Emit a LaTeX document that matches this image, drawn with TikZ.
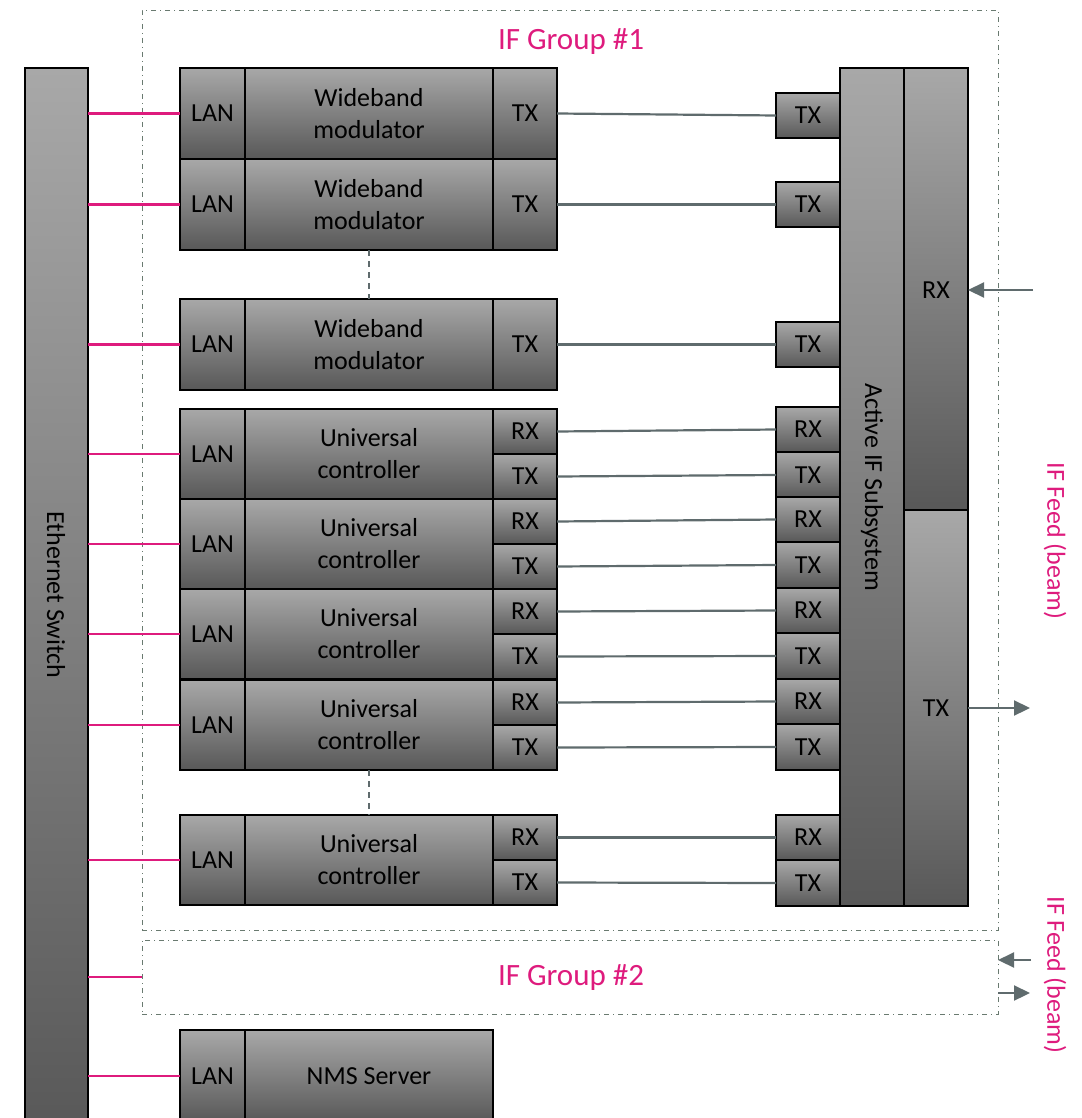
\documentclass[tikz,border=0pt]{standalone}
\usepackage{fontspec}
\setmainfont{Carlito}
\usetikzlibrary{arrows.meta}
\definecolor{boxtop}{RGB}{168,168,168}
\definecolor{boxbot}{RGB}{88,88,88}
\definecolor{pinkc}{RGB}{222,27,125}
\definecolor{linkc}{RGB}{95,107,109}
\definecolor{framec}{RGB}{105,122,112}
\newcommand{\boxfont}{\fontsize{26}{32}\selectfont}
\newcommand{\grpfont}{\fontsize{31}{36}\selectfont}
\tikzset{
  box/.style={draw=black, line width=1.8pt, top color=boxtop, bottom color=boxbot,
    inner sep=0pt, outer sep=0pt, anchor=north west, font=\boxfont, align=center},
  frame/.style={draw=framec, line width=0.7pt, dash pattern=on 5pt off 4pt on 1pt off 4pt,
    inner sep=0pt, outer sep=0pt, anchor=north west},
  link/.style={draw=linkc, line width=2.2pt},
  lanlink/.style={draw=pinkc, line width=2.6pt},
  feed/.style={draw=linkc, line width=2.2pt, -{Triangle[length=16pt,width=15pt]}},
  vdash/.style={draw=linkc, line width=2.2pt, dash pattern=on 6pt off 5pt},
  lbl/.style={font=\boxfont, inner sep=0pt},
  plbl/.style={font=\boxfont, text=pinkc, inner sep=0pt},
}
\begin{document}
\begin{tikzpicture}[x=1pt,y=-1pt]
\useasboundingbox (0,0) rectangle (1081,1118);
\clip (0,0) rectangle (1081,1118);
% group frames
\node[frame, minimum width=856, minimum height=920] (g1) at (142,10) {};
\node[frame, minimum width=856, minimum height=74] (g2) at (142,940) {};
\node[font=\grpfont, text=pinkc, inner sep=0pt] (g1t) at (571,42) {IF Group \#1};
\node[font=\grpfont, text=pinkc, inner sep=0pt] (g2t) at (571,978) {IF Group \#2};
% ethernet switch
\node[box, minimum width=63, minimum height=1070] (es) at (25,68) {};
\node[lbl, rotate=-90] (est) at (56,595) {Ethernet Switch};
% active IF subsystem
\node[box, minimum width=64, minimum height=838] (aif) at (840,68) {};
\node[lbl, rotate=-90] (aift) at (872,487) {Active IF Subsystem};
\node[box, minimum width=64, minimum height=442] (rxcol) at (904,68) {};
\node[lbl] (rxcolt) at (936,290) {RX};
\node[box, minimum width=64, minimum height=396] (txcol) at (904,510) {};
\node[lbl] (txcolt) at (936,708) {TX};
% wideband modulators
\foreach \i/\y/\r in {1/68/93, 2/159/182, 3/299/322} {
  \node[box, minimum width=65, minimum height=91] (wlan\i) at (180,\y) {LAN};
  \node[box, minimum width=248, minimum height=91] (wmid\i) at (245,\y) {Wideband\\modulator};
  \node[box, minimum width=64, minimum height=91] (wtx\i) at (493,\y) {TX};
  \node[box, minimum width=64, minimum height=45] (atx\i) at (776,\r) {TX};
  \draw[link] (wtx\i.east) -- (atx\i.west);
  \draw[lanlink] (wlan\i.west -| es.east) -- (wlan\i.west);
}
\draw[vdash] (wmid2.south) -- (wmid3.north);
% universal controllers
\foreach \i/\y/\r in {1/409/407, 2/499/497, 3/589/588, 4/680/679, 5/815/815} {
  \node[box, minimum width=65, minimum height=90] (ulan\i) at (180,\y) {LAN};
  \node[box, minimum width=248, minimum height=90] (umid\i) at (245,\y) {Universal\\controller};
  \node[box, minimum width=64, minimum height=45] (urx\i) at (493,\y) {RX};
  \node[box, minimum width=64, minimum height=45] (utx\i) at (493,{\y+45}) {TX};
  \node[box, minimum width=64, minimum height=45] (brx\i) at (776,\r) {RX};
  \node[box, minimum width=64, minimum height=46] (btx\i) at (776,{\r+45}) {TX};
  \draw[link] (urx\i.east) -- (brx\i.west);
  \draw[link] (utx\i.east) -- (btx\i.west);
  \draw[lanlink] (ulan\i.west -| es.east) -- (ulan\i.west);
}
\draw[vdash] (umid4.south) -- (umid5.north);
% group 2 and NMS links
\draw[lanlink] (es.east |- g2.west) -- (g2.west);
\node[box, minimum width=65, minimum height=92] (nlan) at (180,1030) {LAN};
\node[box, minimum width=248, minimum height=92] (nms) at (245,1030) {NMS Server};
\draw[lanlink] (nlan.west -| es.east) -- (nlan.west);
% feeds
\coordinate (rxin) at (1033,290);
\coordinate (txout) at (1030,708);
\draw[feed] (rxin) -- (rxin -| rxcol.east);
\draw[feed] (txout -| txcol.east) -- (txout);
\coordinate (g2in) at (1031,960);
\coordinate (g2out) at (1030,993);
\draw[feed] (g2in) -- (g2in -| g2.east);
\draw[feed] (g2out -| g2.east) -- (g2out);
\node[plbl, rotate=-90] (feed1) at (1055,541) {IF Feed (beam)};
\node[plbl, rotate=-90] (feed2) at (1055,975) {IF Feed (beam)};
\end{tikzpicture}
\end{document}
